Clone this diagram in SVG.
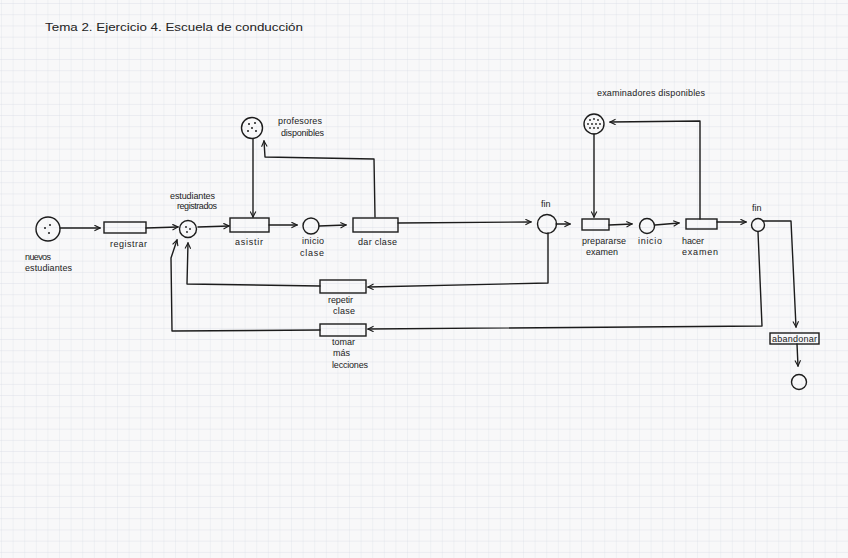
<svg xmlns="http://www.w3.org/2000/svg" width="848" height="558" viewBox="0 0 848 558">
<defs>
<pattern id="grid" width="11.6" height="11.2" patternUnits="userSpaceOnUse" x="2" y="4">
<path d="M11.6 0 V11.2" fill="none" stroke="#e1e5eb" stroke-width="0.8"/>
<path d="M0 11.2 H11.6" fill="none" stroke="#d6dce5" stroke-width="0.8"/>
</pattern>
<marker id="arr" viewBox="0 0 10 10" refX="9" refY="5" markerWidth="7" markerHeight="7" orient="auto-start-reverse" markerUnits="userSpaceOnUse">
<path d="M1 1 L9 5 L1 9" fill="none" stroke="#1c1c1c" stroke-width="1.6"/>
</marker>
<style>
.ln{fill:none;stroke:#1c1c1c;stroke-width:1.4;stroke-linejoin:round;stroke-linecap:round}
.nd{fill:none;stroke:#1c1c1c;stroke-width:1.4}
.dot{fill:#1c1c1c}
.t{font-family:"Liberation Sans","DejaVu Sans",sans-serif;font-size:9px;fill:#222}
.tt{font-family:"Liberation Sans","DejaVu Sans",sans-serif;font-size:11.5px;fill:#222}
</style>
</defs>
<rect x="0" y="0" width="848" height="558" fill="#f8f8f9"/>
<rect x="0" y="0" width="848" height="558" fill="url(#grid)"/>

<text class="tt" x="45" y="31" textLength="258" lengthAdjust="spacingAndGlyphs">Tema 2. Ejercicio 4. Escuela de conducción</text>

<g id="connectors">
<path class="ln" d="M60 228 L100 228" marker-end="url(#arr)"/>
<path class="ln" d="M146 228 L178 227" marker-end="url(#arr)"/>
<path class="ln" d="M198 227 L229 226" marker-end="url(#arr)"/>
<path class="ln" d="M269 225 L297 225" marker-end="url(#arr)"/>
<path class="ln" d="M319 226 L346 225" marker-end="url(#arr)"/>
<path class="ln" d="M398 223 L531 222" marker-end="url(#arr)"/>
<path class="ln" d="M253 139 L253 217" marker-end="url(#arr)"/>
<path class="ln" d="M375 217 L374 159 L265 157 L264 141" marker-end="url(#arr)"/>
<path class="ln" d="M556 224 L570 224" marker-end="url(#arr)"/>
<path class="ln" d="M548 233 L548 283 L368 287" marker-end="url(#arr)"/>
<path class="ln" d="M320 286 L187 284 L188 243" marker-end="url(#arr)"/>
<path class="ln" d="M758 232 L762 326 L368 329" marker-end="url(#arr)"/>
<path class="ln" d="M320 330 L172 331 L171 258 L177 240" marker-end="url(#arr)"/>
<path class="ln" d="M594 134 L594 217" marker-end="url(#arr)"/>
<path class="ln" d="M609 225 L632 224" marker-end="url(#arr)"/>
<path class="ln" d="M655 225 L679 223" marker-end="url(#arr)"/>
<path class="ln" d="M700 219 L700 121 L610 122" marker-end="url(#arr)"/>
<path class="ln" d="M717 222 L746 222" marker-end="url(#arr)"/>
<path class="ln" d="M763 221 L791 221 L796 327" marker-end="url(#arr)"/>
<path class="ln" d="M797 344 L798 366" marker-end="url(#arr)"/>
</g>

<g id="nuevos-estudiantes">
<circle class="nd" cx="48" cy="229" r="12"/>
<circle class="dot" cx="45" cy="228" r="1"/><circle class="dot" cx="50" cy="225" r="1"/><circle class="dot" cx="49" cy="233" r="1"/>
<text class="t" x="25" y="260" textLength="26">nuevos</text>
<text class="t" x="25" y="271" textLength="47">estudiantes</text>
</g>
<g id="registrar">
<rect class="nd" x="104" y="222" width="42" height="11"/>
<text class="t" x="110" y="247" textLength="37">registrar</text>
</g>
<g id="estudiantes-registrados">
<circle class="nd" cx="188" cy="229" r="8.5"/>
<circle class="dot" cx="186" cy="227" r="0.9"/><circle class="dot" cx="190" cy="229" r="0.9"/><circle class="dot" cx="187" cy="232" r="0.9"/>
<text class="t" x="170" y="199" textLength="45">estudiantes</text>
<text class="t" x="177" y="209" textLength="40">registrados</text>
</g>
<g id="profesores-disponibles">
<circle class="nd" cx="252" cy="128" r="10.5"/>
<circle class="dot" cx="249" cy="124" r="1"/><circle class="dot" cx="255" cy="123" r="1"/><circle class="dot" cx="252" cy="128" r="1"/><circle class="dot" cx="248" cy="131" r="1"/><circle class="dot" cx="256" cy="131" r="1"/>
<text class="t" x="278" y="124" textLength="44">profesores</text>
<text class="t" x="281" y="136" textLength="43">disponibles</text>
</g>
<g id="asistir">
<rect class="nd" x="230" y="218" width="39" height="14"/>
<text class="t" x="235" y="245" textLength="28">asistir</text>
</g>
<g id="inicio-clase">
<circle class="nd" cx="311" cy="226" r="8"/>
<text class="t" x="302" y="244" textLength="22">inicio</text>
<text class="t" x="300" y="256" textLength="24">clase</text>
</g>
<g id="dar-clase">
<rect class="nd" x="353" y="218" width="45" height="14"/>
<text class="t" x="358" y="245" textLength="39">dar clase</text>
</g>
<g id="fin-1">
<circle class="nd" cx="547" cy="224" r="9.5"/>
<text class="t" x="541" y="207" font-size="10">fin</text>
</g>
<g id="repetir-clase">
<rect class="nd" x="320" y="280" width="46" height="13"/>
<text class="t" x="328" y="303" textLength="25">repetir</text>
<text class="t" x="333" y="314" textLength="22">clase</text>
</g>
<g id="tomar-mas-lecciones">
<rect class="nd" x="320" y="324" width="46" height="12"/>
<text class="t" x="332" y="345" textLength="23">tomar</text>
<text class="t" x="333" y="356" textLength="17">más</text>
<text class="t" x="332" y="368" textLength="36">lecciones</text>
</g>
<g id="examinadores-disponibles">
<circle class="nd" cx="594" cy="124" r="10"/>
<circle class="dot" cx="590" cy="120" r="0.9"/><circle class="dot" cx="594" cy="119" r="0.9"/><circle class="dot" cx="598" cy="120" r="0.9"/>
<circle class="dot" cx="588" cy="124" r="0.9"/><circle class="dot" cx="592" cy="124" r="0.9"/><circle class="dot" cx="596" cy="124" r="0.9"/><circle class="dot" cx="600" cy="124" r="0.9"/>
<circle class="dot" cx="590" cy="128" r="0.9"/><circle class="dot" cx="594" cy="128" r="0.9"/><circle class="dot" cx="598" cy="128" r="0.9"/>
<text class="t" x="597" y="96" textLength="108">examinadores disponibles</text>
</g>
<g id="prepararse-examen">
<rect class="nd" x="582" y="219" width="27" height="11"/>
<text class="t" x="582" y="244" textLength="44">prepararse</text>
<text class="t" x="586" y="255" textLength="32">examen</text>
</g>
<g id="inicio-examen">
<circle class="nd" cx="647" cy="226" r="7.5"/>
<text class="t" x="638" y="244" textLength="24">inicio</text>
</g>
<g id="hacer-examen">
<rect class="nd" x="686" y="219" width="31" height="10"/>
<text class="t" x="682" y="244" textLength="22">hacer</text>
<text class="t" x="682" y="255" textLength="36">examen</text>
</g>
<g id="fin-2">
<circle class="nd" cx="758" cy="225" r="6.5"/>
<text class="t" x="752" y="211" font-size="9.5">fin</text>
</g>
<g id="abandonar">
<rect class="nd" x="770" y="333" width="49" height="11"/>
<text class="t" x="772" y="342" font-size="8" textLength="45">abandonar</text>
</g>
<g id="end">
<circle class="nd" cx="799" cy="382" r="7.5"/>
</g>
</svg>
